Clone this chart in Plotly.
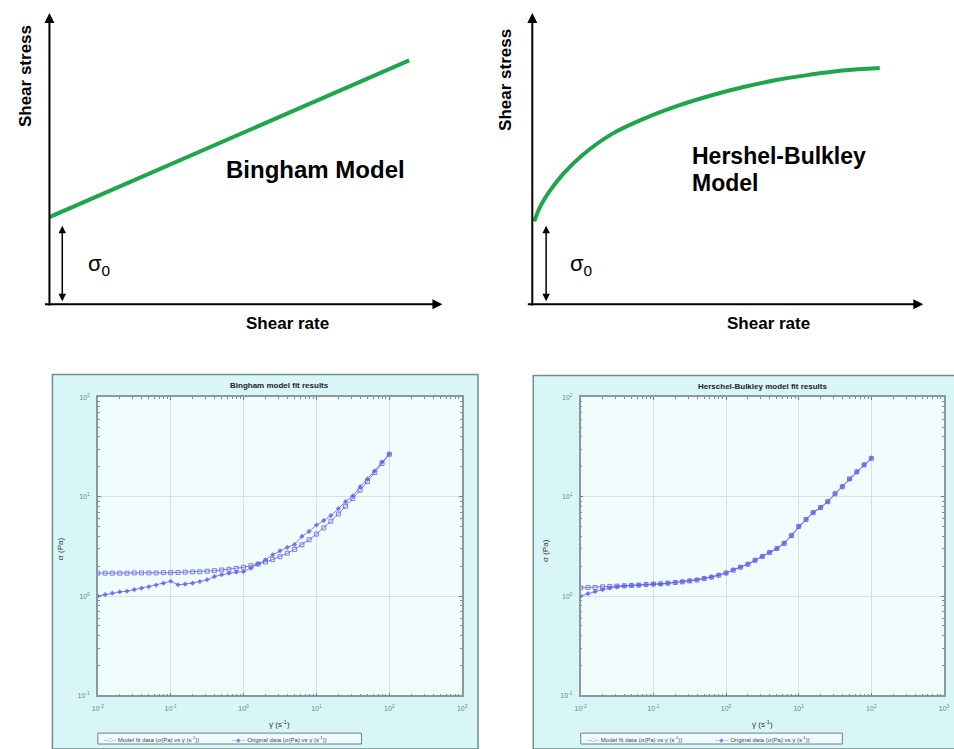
import plotly.graph_objects as go

W, H = 954, 749

# ---------------- data ----------------
# top-left schematic (Bingham): linear shear stress vs shear rate (arbitrary units)
bingham_rate = [0, 92]
bingham_stress = [30, 84]

# top-right schematic (Herschel-Bulkley)
hb_rate = [0.5, 2.0, 4.5, 8.0, 13.0, 20.3, 28.9, 37.3, 45.7, 54.3, 62.7, 71.1, 79.7, 89.3]
hb_stress = [28.5, 33.5, 39.0, 45.0, 51.5, 58.5, 64.0, 68.3, 71.8, 74.8, 77.2, 79.0, 80.5, 81.4]

# bottom panels: shear rate (1/s)
shear_rate = [0.01, 0.0126, 0.0158, 0.02, 0.0251, 0.0316, 0.0398, 0.0501, 0.0631, 0.0794,
              0.1, 0.126, 0.158, 0.2, 0.251, 0.316, 0.398, 0.501, 0.631, 0.794,
              1.0, 1.26, 1.58, 2.0, 2.51, 3.16, 3.98, 5.01, 6.31, 7.94,
              10.0, 12.6, 15.8, 20.0, 25.1, 31.6, 39.8, 50.1, 63.1, 79.4, 100.0]

bingham_model = [1.70, 1.70, 1.70, 1.70, 1.70, 1.71, 1.71, 1.71, 1.71, 1.72,
                 1.72, 1.73, 1.74, 1.75, 1.76, 1.78, 1.80, 1.83, 1.86, 1.90,
                 1.95, 2.02, 2.10, 2.20, 2.33, 2.49, 2.70, 2.95, 3.28, 3.69,
                 4.20, 4.85, 5.66, 6.70, 8.00, 9.60, 11.6, 14.2, 17.5, 21.6, 26.7]
bingham_orig = [1.00, 1.035, 1.07, 1.10, 1.12, 1.16, 1.20, 1.24, 1.29, 1.35,
                1.41, 1.30, 1.32, 1.35, 1.40, 1.46, 1.57, 1.64, 1.70, 1.74,
                1.76, 1.91, 2.11, 2.32, 2.60, 2.85, 3.09, 3.31, 3.98, 4.47,
                5.19, 5.75, 6.46, 7.59, 8.91, 10.2, 12.6, 15.1, 18.2, 22.4, 26.9]

hb_model = [1.21, 1.22, 1.22, 1.24, 1.25, 1.26, 1.27, 1.28, 1.29, 1.31,
            1.32, 1.33, 1.35, 1.37, 1.39, 1.42, 1.45, 1.50, 1.55, 1.62,
            1.71, 1.82, 1.95, 2.09, 2.29, 2.51, 2.75, 3.02, 3.39, 4.07,
            5.01, 5.89, 6.92, 7.76, 8.91, 10.7, 12.6, 15.1, 17.8, 20.9, 24.3]
hb_orig = [1.00, 1.06, 1.11, 1.16, 1.20, 1.24, 1.26, 1.28, 1.29, 1.30,
           1.32, 1.32, 1.34, 1.37, 1.40, 1.43, 1.46, 1.51, 1.56, 1.63,
           1.70, 1.84, 1.96, 2.10, 2.30, 2.50, 2.76, 3.00, 3.41, 4.05,
           5.00, 5.90, 6.90, 7.80, 8.90, 10.7, 12.6, 15.0, 17.8, 20.9, 24.4]

log_tickvals = [0.001, 0.01, 0.1, 1, 10, 100, 1000]
log_ticktext = ["10<sup>-3</sup>", "10<sup>-2</sup>", "10<sup>-1</sup>", "10<sup>0</sup>",
                "10<sup>1</sup>", "10<sup>2</sup>", "10<sup>3</sup>"]

legend_names = ["Model fit data (σ(Pa) vs γ̇ (s<sup>-1</sup>))",
                "Original data (σ(Pa) vs γ̇ (s<sup>-1</sup>))"]

# ---------------- helpers ----------------
def px(x):
    return x / W

def py(y):
    return 1 - y / H

GREEN = "#1fa64c"
BLUE = "rgba(95,95,235,0.8)"
FONT = "Liberation Sans, Arial, sans-serif"

fig = go.Figure()

# top schematic curves
fig.add_trace(go.Scatter(x=bingham_rate, y=bingham_stress, mode="lines",
                         line=dict(color=GREEN, width=4), xaxis="x", yaxis="y",
                         showlegend=False, hoverinfo="skip"))
fig.add_trace(go.Scatter(x=hb_rate, y=hb_stress, mode="lines",
                         line=dict(color=GREEN, width=4, shape="spline", smoothing=1.0),
                         xaxis="x2", yaxis="y2", showlegend=False, hoverinfo="skip"))

# bottom fit panels
for xa, ya, model, orig in [("x3", "y3", bingham_model, bingham_orig),
                            ("x4", "y4", hb_model, hb_orig)]:
    fig.add_trace(go.Scatter(x=shear_rate, y=model, mode="lines+markers", name=legend_names[0],
                             line=dict(color=BLUE, width=1),
                             marker=dict(symbol="square-open", size=4, color=BLUE,
                                         line=dict(width=1, color=BLUE)),
                             xaxis=xa, yaxis=ya, showlegend=False))
    fig.add_trace(go.Scatter(x=shear_rate, y=orig, mode="lines+markers", name=legend_names[1],
                             line=dict(color=BLUE, width=1),
                             marker=dict(symbol="diamond", size=4, color=BLUE),
                             xaxis=xa, yaxis=ya, showlegend=False))

hidden = dict(visible=False, fixedrange=True)
fig.update_layout(
    width=W, height=H, margin=dict(l=0, r=0, t=0, b=0),
    paper_bgcolor="white", plot_bgcolor="rgba(0,0,0,0)",
    font=dict(family=FONT, color="#000"), showlegend=False,
    xaxis=dict(domain=[px(44), px(440)], range=[0, 100], anchor="y", **hidden),
    yaxis=dict(domain=[py(303), py(10)], range=[0, 100], anchor="x", **hidden),
    xaxis2=dict(domain=[px(533), px(927)], range=[0, 100], anchor="y2", **hidden),
    yaxis2=dict(domain=[py(303), py(10)], range=[0, 100], anchor="x2", **hidden),
)

def log_axis(domain, rng, anchor):
    return dict(domain=domain, type="log", range=rng, anchor=anchor,
                tickmode="array", tickvals=log_tickvals, ticktext=log_ticktext,
                tickfont=dict(size=7, color="#6f8585"), ticks="inside", ticklen=3,
                tickcolor="#6f7f7f", showline=True, linecolor="#8a9a9a", linewidth=1.5,
                mirror="ticks", showgrid=True, gridcolor="#d3e1e1", gridwidth=1,
                zeroline=False, ticklabelstandoff=5,
                minor=dict(ticks="inside", ticklen=2, dtick="D1", tickcolor="#7f8f8f",
                           showgrid=False))

fig.update_layout(
    xaxis3=log_axis([px(93), px(462)], [-2, 3], "y3"),
    yaxis3=log_axis([py(698), py(397)], [-1, 2], "x3"),
    xaxis4=log_axis([px(582), px(950)], [-2, 3], "y4"),
    yaxis4=log_axis([py(698), py(397)], [-1, 2], "x4"),
)

# ---------------- shapes: bottom panel backgrounds ----------------
shapes = []
for x0, x1, y0 in [(47, 478, 374), (534, 965, 375)]:
    shapes.append(dict(type="rect", xref="paper", yref="paper", layer="below",
                       x0=px(x0), x1=px(x1), y0=py(752), y1=py(y0),
                       fillcolor="#d8f6f8", line=dict(color="#6f8f8f", width=1.5)))
for x0, x1 in [(93, 462), (582, 950)]:
    shapes.append(dict(type="rect", xref="paper", yref="paper", layer="below",
                       x0=px(x0), x1=px(x1), y0=py(698), y1=py(397),
                       fillcolor="#f1fdfd", line=dict(width=0)))
# slim legend boxes
for x0, x1 in [(93, 360), (582, 847)]:
    shapes.append(dict(type="rect", xref="paper", yref="paper", layer="above",
                       x0=px(x0), x1=px(x1), y0=py(747), y1=py(736),
                       fillcolor="#eefcfd", line=dict(color="#6f8080", width=1)))
fig.update_layout(shapes=shapes)

# ---------------- annotations ----------------
ann = []

def arrow(hx, hy, tx, ty, width=2, side="end", size=1.0, head=2):
    ann.append(dict(xref="paper", yref="paper", x=px(hx), y=py(hy), text="",
                    showarrow=True, axref="pixel", ayref="pixel", ax=tx - hx, ay=ty - hy,
                    arrowhead=head, arrowsize=size, arrowwidth=width, arrowcolor="#000",
                    arrowside=side, startarrowhead=head, startarrowsize=size,
                    standoff=0, startstandoff=0))

def text(x, y, s, size, bold=False, angle=0, color="#000", xanchor="center"):
    ann.append(dict(xref="paper", yref="paper", x=px(x), y=py(y), text=f"<b>{s}</b>" if bold else s,
                    showarrow=False, textangle=angle, xanchor=xanchor, yanchor="middle",
                    font=dict(size=size, color=color, family=FONT)))

# top-left axes
arrow(44, 9, 44, 303)
arrow(442, 303, 43, 303)
arrow(57, 300, 57, 223, width=1.5, side="end+start", size=1.0)
# top-right axes
arrow(533, 9, 533, 303)
arrow(929, 303, 532, 303)
arrow(547, 300, 547, 223, width=1.5, side="end+start", size=1.0)

text(20, 73, "Shear stress", 17, bold=True, angle=-90)
text(285, 323, "Shear rate", 17, bold=True)
text(313, 167, "Bingham Model", 24, bold=True)
text(94, 263, "σ<sub>0</sub>", 22)

text(506, 77, "Shear stress", 17, bold=True, angle=-90)
text(772, 323, "Shear rate", 17, bold=True)
text(693, 153, "Hershel-Bulkley", 23, bold=True, xanchor="left")
text(693, 181, "Model", 23, bold=True, xanchor="left")
text(582, 263, "σ<sub>0</sub>", 22)

# bottom panel titles / axis titles
text(277, 385, "Bingham model fit results", 8, bold=True, color="#222")
text(766, 386, "Herschel-Bulkley model fit results", 8, bold=True, color="#222")
text(277, 727, "γ̇ (s<sup>-1</sup>)", 8, color="#333")
text(766, 727, "γ̇ (s<sup>-1</sup>)", 8, color="#333")
text(56, 550, "σ (Pa)", 8, angle=-90, color="#333")
text(547, 552, "σ (Pa)", 8, angle=-90, color="#333")

# legend entries (slim, single row)
for lx in (93, 582):
    ann.append(dict(xref="paper", yref="paper", x=px(lx + 3), y=py(741.5), showarrow=False,
                    xanchor="left", yanchor="middle",
                    text=f"<span style='color:{BLUE}'>─□─</span> {legend_names[0]}",
                    font=dict(size=6, color="#445", family=FONT)))
    ann.append(dict(xref="paper", yref="paper", x=px(lx + 133), y=py(741.5), showarrow=False,
                    xanchor="left", yanchor="middle",
                    text=f"<span style='color:{BLUE}'>─◆─</span> {legend_names[1]}",
                    font=dict(size=6, color="#445", family=FONT)))

fig.update_layout(annotations=ann)

fig.write_html("out.html", config={"displayModeBar": False},
               post_script="document.body.style.margin='0';document.body.style.overflow='hidden';")
